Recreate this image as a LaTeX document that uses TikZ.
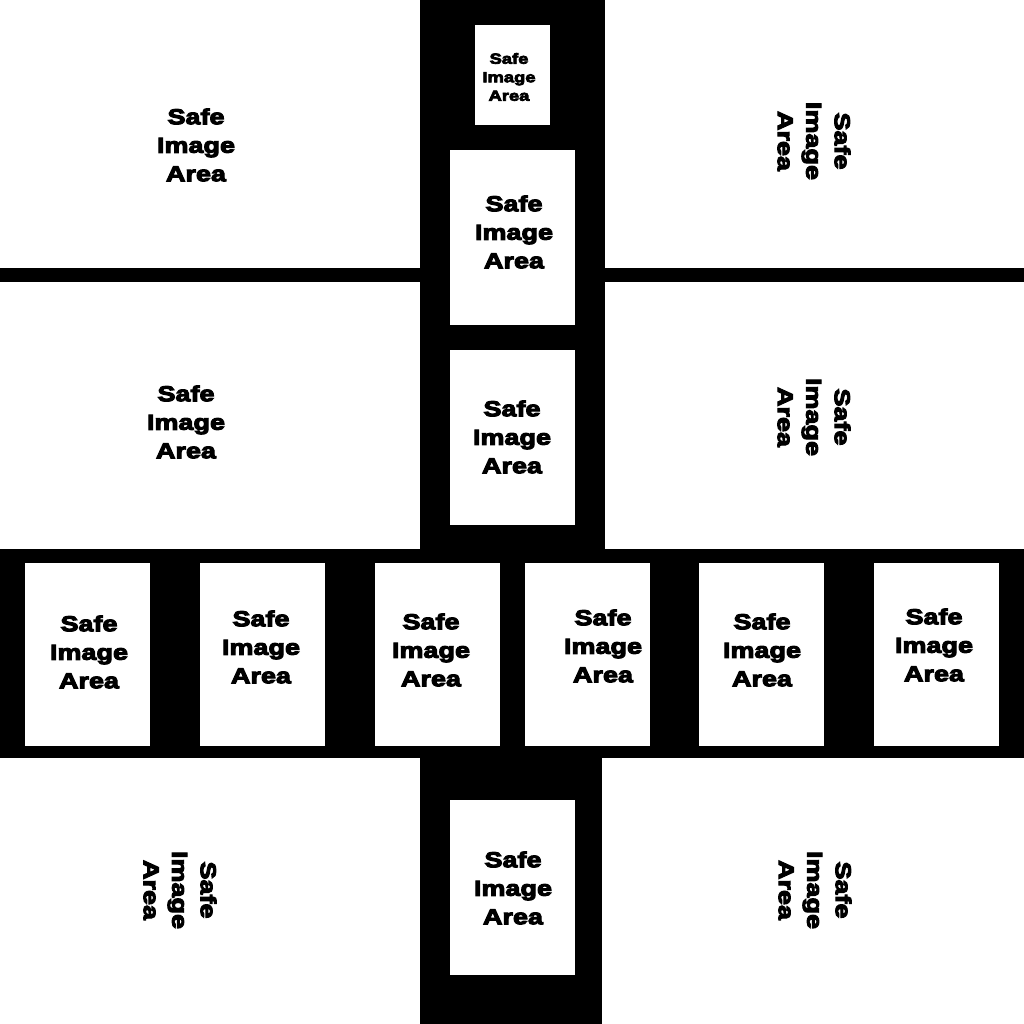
\documentclass[tikz,border=0pt]{standalone}
\usepackage{fontspec}
\newfontfamily\safefont[FakeStretch=1.25, FakeBold=5]{Liberation Sans Bold}
\begin{document}
\begin{tikzpicture}[
    x = 1pt, y = -1pt,
    band/.style  = {fill=black},
    safe/.style  = {fill=white, inner sep=0pt, minimum width=125pt, minimum height=175pt},
    wide/.style  = {safe, minimum height=183pt},
    small/.style = {safe, minimum width=75pt, minimum height=100pt},
    txt/.style   = {align=center, inner sep=0pt, font=\safefont\fontsize{21.6}{28.5}\selectfont},
    stxt/.style  = {txt, font=\safefont\fontsize{14.7}{18.5}\selectfont}
]

% Canvas
\fill[white] (0,0) rectangle (1024,1024);
\useasboundingbox (0,0) rectangle (1024,1024);

% Black bands
\fill[band] (420,0) rectangle (605,549);
\fill[band] (420,757) rectangle (602,1024);
\fill[band] (0,549) rectangle (1024,758);
\fill[band] (0,268) rectangle (420,282);
\fill[band] (605,268) rectangle (1024,282);

% Vertical column
\node[small] (1) at (512.5,75)    {};
\node[safe]  (2) at (512.5,237.5) {};
\node[safe]  (3) at (512.5,437.5) {};
\node[safe]  (4) at (512.5,887.5) {};

% Horizontal row
\node[wide] (5)  at (87.5,654.5)  {};
\node[wide] (6)  at (262.5,654.5) {};
\node[wide] (7)  at (437.5,654.5) {};
\node[wide] (8)  at (587.5,654.5) {};
\node[wide] (9)  at (761.5,654.5) {};
\node[wide] (10) at (936.5,654.5) {};

% Labels in the boxes
\node[stxt] (l1) at (509,77)  {Safe\\Image\\Area};
\node[txt]  (l2) at (514,232) {Safe\\Image\\Area};
\node[txt]  (l3) at (512,437) {Safe\\Image\\Area};
\node[txt]  (l4) at (513,888) {Safe\\Image\\Area};

\node[txt] (l5)  at (89,652)  {Safe\\Image\\Area};
\node[txt] (l6)  at (261,647) {Safe\\Image\\Area};
\node[txt] (l7)  at (431,650) {Safe\\Image\\Area};
\node[txt] (l8)  at (603,646) {Safe\\Image\\Area};
\node[txt] (l9)  at (762,650) {Safe\\Image\\Area};
\node[txt] (l10) at (934,645) {Safe\\Image\\Area};

% Labels in the open areas
\node[txt] (c1) at (196,145) {Safe\\Image\\Area};
\node[txt] (c2) at (186,422) {Safe\\Image\\Area};
\node[txt, rotate=-90] (c3) at (814,141) {Safe\\Image\\Area};
\node[txt, rotate=-90] (c4) at (814,417) {Safe\\Image\\Area};
\node[txt, rotate=-90] (c5) at (180,890) {Safe\\Image\\Area};
\node[txt, rotate=-90] (c6) at (815,890) {Safe\\Image\\Area};

\end{tikzpicture}
\end{document}
